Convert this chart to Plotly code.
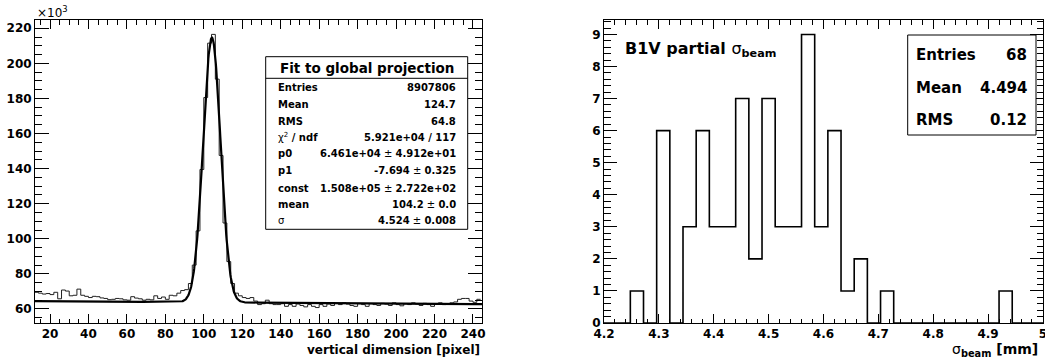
import numpy as np
import plotly.graph_objects as go

# ---------------- data: left panel (global projection, counts in units of 10^3) ----------------
left_bin_low = 12          # first bin edge [pixel]
left_bin_width = 2         # bin width [pixel]
left_counts_k = [
    # bins 12..90
    69.5, 69.0, 68.5, 68.8, 68.2, 69.5, 65.8, 70.8, 70.2, 67.5,
    67.8, 71.3, 67.8, 67.2, 66.5, 67.2, 67.0, 66.3, 66.0, 65.3,
    65.5, 66.0, 65.8, 65.2, 65.0, 67.0, 66.2, 65.8, 65.0, 65.5,
    65.2, 67.5, 66.0, 66.8, 65.5, 67.8, 67.5, 69.0, 70.5,
    # bins 90..120 (peak)
    71.0, 74.5, 85.0, 104.5, 139.5, 180.5, 211.5, 216.5, 191.0, 147.5,
    109.0, 87.0, 74.5, 69.0, 67.5,
    # bins 120..244
    66.5, 66.0, 66.5, 64.5, 62.5, 63.0, 65.0, 63.0, 62.5, 62.5,
    63.0, 61.5, 62.5, 61.5, 62.8, 62.0, 61.2, 62.5, 61.5, 60.8,
    62.5, 61.5, 62.8, 62.0, 63.2, 62.5, 63.5, 62.8, 62.0, 61.5,
    63.0, 62.5, 61.5, 63.0, 62.5, 62.0, 63.2, 62.8, 62.0, 63.5,
    62.5, 61.8, 63.0, 62.5, 63.5, 62.8, 62.0, 63.2, 62.5, 61.5,
    62.8, 63.5, 62.5, 63.0, 63.5, 64.0, 65.5, 66.0, 66.0, 64.5,
    63.8, 65.5,
]
# fit: pol1 + gaus, parameters as printed in the stats box
fit_p0 = 6.461e4
fit_p1 = -7.694
fit_const = 1.508e5
fit_mean = 104.2
fit_sigma = 4.524

left_stat_labels = ["Entries", "Mean", "RMS", "χ<sup>2</sup><b> / ndf</b>", "p0", "p1",
                    "const", "mean", "σ"]
left_stat_values = ["8907806", "124.7", "64.8", "5.921e+04 / 117",
                    "6.461e+04 ± 4.912e+01", "-7.694 ± 0.325",
                    "1.508e+05 ± 2.722e+02", "104.2 ± 0.0", "4.524 ± 0.008"]

# ---------------- data: right panel (B1V partial sigma_beam) ----------------
right_bin_low = 4.2
right_bin_width = 0.024
right_counts = [0, 0, 1, 0, 6, 0, 3, 6, 3, 3, 7, 2, 7, 3, 3, 9, 3, 6, 1, 2,
                0, 1, 0, 0, 0, 0, 0, 0, 0, 0, 1, 0, 0, 0]
right_stat_labels = ["Entries", "Mean", "RMS"]
right_stat_values = ["68", "4.494", "0.12"]

# ---------------- figure ----------------
W, H = 1045, 360
FONT = "DejaVu Sans"


def px(x):
    return x / W


def py(y):
    return 1 - y / H


def step_xy(low, width, counts):
    edges = [low + width * i for i in range(len(counts) + 1)]
    return edges, list(counts) + [counts[-1]]


fig = go.Figure()

lx, ly = step_xy(left_bin_low, left_bin_width, left_counts_k)
fig.add_trace(go.Scatter(x=lx, y=ly, mode="lines", line=dict(shape="hv", color="#222", width=1),
                         xaxis="x", yaxis="y", showlegend=False, hoverinfo="skip"))

xf = np.linspace(12.2, 244.7, 1200)
yf = (fit_p0 + fit_p1 * xf + fit_const * np.exp(-0.5 * ((xf - fit_mean) / fit_sigma) ** 2)) / 1e3
fig.add_trace(go.Scatter(x=xf, y=yf, mode="lines", line=dict(color="black", width=2.2),
                         xaxis="x", yaxis="y", showlegend=False, hoverinfo="skip"))

rx, ry = step_xy(right_bin_low, right_bin_width, right_counts)
fig.add_trace(go.Scatter(x=rx, y=ry, mode="lines", line=dict(shape="hv", color="black", width=1.6),
                         xaxis="x2", yaxis="y2", showlegend=False, hoverinfo="skip", cliponaxis=False))

tickfont = dict(family=FONT, size=12, color="black", weight="bold")


def axis(domain, rng, dtick, minor_dtick, ticklen, anchor, standoff, tick0=0):
    return dict(domain=domain, range=rng, dtick=dtick, tick0=tick0, showgrid=False, zeroline=False,
                showline=True, linecolor="black", linewidth=1, mirror="allticks",
                ticks="inside", ticklen=ticklen, tickwidth=1, tickcolor="black",
                ticklabelstandoff=standoff, automargin=False, ticklabeloverflow="allow",
                minor=dict(dtick=minor_dtick, ticks="inside", ticklen=ticklen / 2, tickcolor="black",
                           tickwidth=1, showgrid=False),
                tickfont=tickfont, anchor=anchor, fixedrange=True)


ydom = [py(323), py(20)]
fig.update_layout(
    width=W, height=H, margin=dict(l=0, r=0, t=0, b=0, autoexpand=False),
    paper_bgcolor="white", plot_bgcolor="white",
    xaxis=axis([px(35), px(482)], [12.2, 244.7], 20, 5, 9, "y", 0),
    yaxis=axis(ydom, [52, 224.7], 20, 5, 14, "x", 0),
    xaxis2=axis([px(604), px(1043)], [4.2, 5.0001], 0.1, 0.02, 9, "y2", 0),
    yaxis2=axis(ydom, [-0.0001, 9.45], 1, 0.2, 13, "x2", 0),
)

shapes = []
annots = []


def text(x, y, s, size, xanchor="left", weight="bold", yanchor="middle"):
    annots.append(dict(x=px(x), y=py(y), xref="paper", yref="paper", text=s, showarrow=False,
                       xanchor=xanchor, yanchor=yanchor,
                       font=dict(family=FONT, size=size, color="black", weight=weight)))


# multiplier
text(35, 12, "×10<sup>3</sup>", 12, weight="normal")

# left stats box
shapes.append(dict(type="rect", xref="paper", yref="paper", x0=px(265.7), x1=px(467.7),
                   y0=py(229.3), y1=py(56.7), line=dict(color="black", width=1), fillcolor="white"))
shapes.append(dict(type="line", xref="paper", yref="paper", x0=px(265.7), x1=px(467.7),
                   y0=py(78.3), y1=py(78.3), line=dict(color="black", width=1)))
text(366.7, 67.5, "Fit to global projection", 13.5, xanchor="center")
row_y = [87.7, 104.3, 121, 137.3, 153.3, 170, 188.5, 204.3, 220]


def boldparts(s):
    return s.replace(" ± ", "</b> ± <b>")


for yy, lab, val in zip(row_y, left_stat_labels, left_stat_values):
    if lab in ("σ",) or lab.startswith("χ"):
        text(276, yy, lab, 10, weight="normal")
    else:
        text(276, yy, "<b>" + lab + "</b>", 10, weight="normal")
    text(458.3, yy, "<b>" + boldparts(val) + "</b>", 10, xanchor="right", weight="normal")

# left x title
text(482, 350, "vertical dimension [pixel]", 12, xanchor="right")

# right title
text(623, 50, "<b>B1V partial </b>σ<sub><b>beam</b></sub>", 16, weight="normal")

# right stats box
shapes.append(dict(type="rect", xref="paper", yref="paper", x0=px(907.7), x1=px(1036),
                   y0=py(135), y1=py(35), line=dict(color="black", width=1), fillcolor="white"))
for yy, lab, val in zip([54.5, 88, 120.5], right_stat_labels, right_stat_values):
    text(914.3, yy, lab, 15)
    text(1029.3, yy, val, 15, xanchor="right")

# right x title
text(1040, 350, "σ<sub><b>beam</b></sub><b> [mm]</b>", 14, xanchor="right", weight="normal")

fig.update_layout(shapes=shapes, annotations=annots)
fig.write_html("out.html", config={"displayModeBar": False},
               post_script="document.body.style.margin='0px';document.body.style.overflow='hidden';")
